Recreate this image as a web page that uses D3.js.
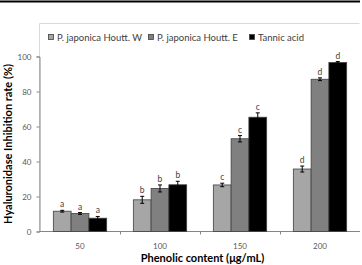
<!DOCTYPE html>
<html><head><meta charset="utf-8">
<script src="https://cdn.jsdelivr.net/npm/d3@7"></script>
<style>body{margin:0;background:#fff}svg{display:block}</style>
</head><body>
<script>
const categories = ["50","100","150","200"];
const seriesNames = ["P. japonica Houtt. W","P. japonica Houtt. E","Tannic acid"];
const seriesColors = ["#a6a6a6","#808080","#000000"];
const valuesW = [11.6, 18.1, 26.6, 35.7];
const valuesE = [10.3, 24.6, 53.0, 87.0];
const valuesT = [7.6, 26.7, 65.3, 96.6];
const errW = [0.5, 2.0, 1.0, 1.7];
const errE = [0.5, 2.0, 1.8, 0.8];
const errT = [1.0, 2.0, 2.5, 0.5];
const lettersW = ["a","b","c","d"];
const lettersE = ["a","b","c","d"];
const lettersT = ["a","b","c","d"];
const yTicks = [0,20,40,60,80,100];

const W = 362, H = 265;
const svg = d3.select("body").append("svg").attr("width", W).attr("height", H);
const font = "Lato, 'Open Sans', sans-serif";

// top rule
svg.append("line").attr("x1",0).attr("x2",360).attr("y1",1.5).attr("y2",1.5)
  .attr("stroke","#000").attr("stroke-width",2);

// chart frame
svg.append("path").attr("d","M39.5,231.5V23.5H359.5").attr("fill","none").attr("stroke","#d9d9d9").attr("stroke-width",1);

const x0 = d3.scaleBand().domain(categories).range([40,360]).paddingInner(0.3333).paddingOuter(0.1667);
const x1 = d3.scaleBand().domain(d3.range(3)).range([0, x0.bandwidth()]);
const y = d3.scaleLinear().domain([0,100]).range([231.5,56.5]);

const series = [
  {vals: valuesW, errs: errW, letters: lettersW},
  {vals: valuesE, errs: errE, letters: lettersE},
  {vals: valuesT, errs: errT, letters: lettersT}
];

// axes
const yAxis = d3.axisLeft(y).tickValues(yTicks).tickSize(3).tickPadding(5);
const gy = svg.append("g").attr("transform","translate(39.5,0)").call(yAxis);
gy.select(".domain").attr("stroke","#868686");
gy.selectAll(".tick line").attr("stroke","#868686");
gy.selectAll("text").attr("fill","#595959").attr("font-family",font).attr("font-size",8);

const xAxisScale = d3.scaleLinear().domain([0,4]).range([40,360]);
const gx = svg.append("g").attr("transform","translate(0,231.5)");
gx.append("line").attr("x1",39.5).attr("x2",360).attr("stroke","#868686");
gx.selectAll(".xt").data([1,2,3]).join("line").attr("class","xt")
  .attr("x1",d=>Math.round(xAxisScale(d))+0.5).attr("x2",d=>Math.round(xAxisScale(d))+0.5)
  .attr("y1",0).attr("y2",3).attr("stroke","#868686");
gx.selectAll(".xl").data(categories).join("text").attr("class","xl")
  .attr("x",d=>x0(d)+x0.bandwidth()/2).attr("y",17)
  .attr("text-anchor","middle").attr("fill","#595959").attr("font-family",font).attr("font-size",8)
  .text(d=>d);

// bars
series.forEach((s,si)=>{
  const g = svg.append("g");
  g.selectAll("rect").data(categories).join("rect")
    .attr("x",(c)=>x0(c)+x1(si))
    .attr("width",x1.bandwidth())
    .attr("y",(c,i)=>y(s.vals[i]))
    .attr("height",(c,i)=>y(0)-y(s.vals[i]))
    .attr("fill",seriesColors[si]).attr("stroke","#404040").attr("stroke-width",0.8);
  categories.forEach((c,i)=>{
    const cx = x0(c)+x1(si)+x1.bandwidth()/2;
    const top = y(s.vals[i]+s.errs[i]), bot = y(s.vals[i]-s.errs[i]);
    const ec = "#000";
    g.append("line").attr("x1",cx).attr("x2",cx).attr("y1",top).attr("y2",bot).attr("stroke",ec).attr("stroke-width",1);
    g.append("line").attr("x1",cx-2).attr("x2",cx+2).attr("y1",top).attr("y2",top).attr("stroke",ec).attr("stroke-width",1);
    g.append("line").attr("x1",cx-2).attr("x2",cx+2).attr("y1",bot).attr("y2",bot).attr("stroke",ec).attr("stroke-width",1);
    g.append("text").attr("x",cx).attr("y",top-3).attr("text-anchor","middle")
      .attr("fill","#404040").attr("font-family",font).attr("font-size",8.5).text(s.letters[i]);
  });
});

// legend
const legX = [48, 148, 249];
const legG = svg.append("g");
seriesNames.forEach((n,i)=>{
  legG.append("rect").attr("x",legX[i]+0.5).attr("y",34.5).attr("width",5).attr("height",5)
    .attr("fill",seriesColors[i]).attr("stroke","#404040").attr("stroke-width",0.8);
  legG.append("text").attr("x",legX[i]+9).attr("y",40.5).attr("fill","#404040")
    .attr("font-family",font).attr("font-size",9.5).text(n);
});

// axis titles
svg.append("text").attr("transform","translate(11.5,144) rotate(-90)").attr("text-anchor","middle")
  .attr("font-family",font).attr("font-weight","bold").attr("font-size",11).attr("fill","#000")
  .text("Hyaluronidase Inhibition rate (%)");
svg.append("text").attr("x",202.5).attr("y",262).attr("text-anchor","middle")
  .attr("font-family",font).attr("font-weight","bold").attr("font-size",11).attr("fill","#000")
  .text("Phenolic content (μg/mL)");
</script>
</body></html>
